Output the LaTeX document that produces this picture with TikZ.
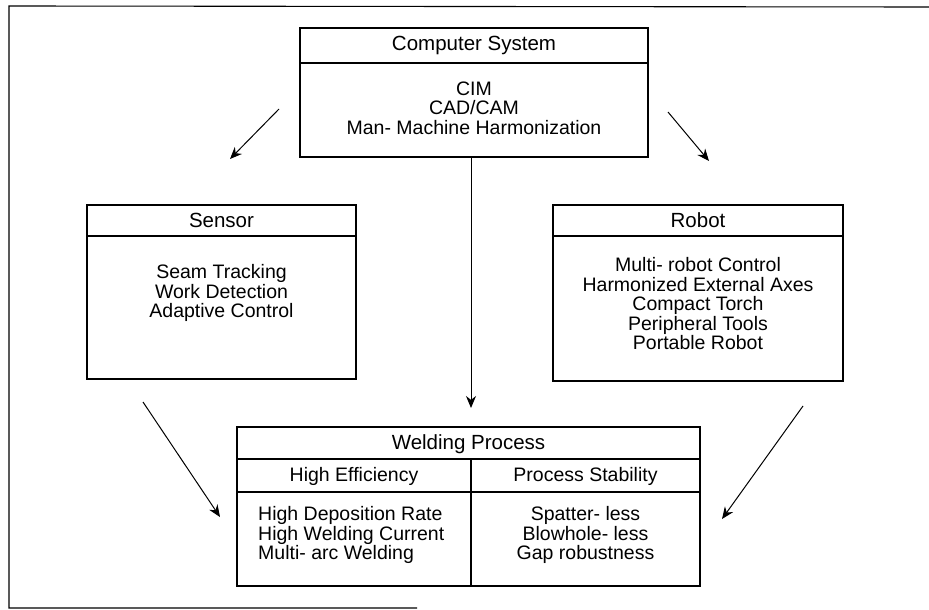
\documentclass[tikz,border=0pt]{standalone}
\usepackage{fontspec}
\setmainfont{Liberation Sans}
\usetikzlibrary{arrows.meta}
\begin{document}
\begin{tikzpicture}[x=1pt,y=-1pt,
  frame/.style={draw, line width=1.1pt, inner sep=0pt, outer sep=0pt},
  rule/.style={line width=1.1pt},
  head/.style={font=\fontsize{20.5}{20}\selectfont, inner sep=0pt, align=center},
  txt/.style={font=\fontsize{19.5}{19.5}\selectfont, inner sep=0pt, align=center},
  ltxt/.style={font=\fontsize{19.5}{19.5}\selectfont, inner sep=0pt, align=left},
  conn/.style={line width=1pt, -{Stealth[length=12pt,width=10pt]}}]
\useasboundingbox (0,0) rectangle (929,610);
% outer frame (cropped)
\draw[rule] (929,7) -- (9,6) -- (9,608) -- (417,608);

% Computer System
\node[frame, minimum width=348pt, minimum height=129pt] (cs) at (474,92.5) {};
\draw[rule] (cs.west |- 0,63) -- (cs.east |- 0,63);
\node[head] (cst) at (474,45) {Computer System};
\node[txt] (csb) at (474,108) {CIM\\CAD/CAM\\Man- Machine Harmonization};

% Sensor
\node[frame, minimum width=269pt, minimum height=174pt] (se) at (221.5,292) {};
\draw[rule] (se.west |- 0,236) -- (se.east |- 0,236);
\node[head] (set) at (221.5,220) {Sensor};
\node[txt] (seb) at (221.5,293) {Seam Tracking\\Work Detection\\Adaptive Control};

% Robot
\node[frame, minimum width=290pt, minimum height=176pt] (ro) at (698,293) {};
\draw[rule] (ro.west |- 0,236) -- (ro.east |- 0,236);
\node[head] (rot) at (698,220) {Robot};
\node[txt] (rob) at (698,304) {Multi- robot Control\\Harmonized External Axes\\Compact Torch\\Peripheral Tools\\Portable Robot};

% Welding Process
\node[frame, minimum width=463pt, minimum height=159pt] (wp) at (468.5,506.5) {};
\draw[rule] (wp.west |- 0,459) -- (wp.east |- 0,459);
\draw[rule] (wp.west |- 0,492) -- (wp.east |- 0,492);
\coordinate (div) at (471,459);
\draw[rule] (div) -- (div |- wp.south);
\node[head] (wpt) at (468.5,444) {Welding Process};
\node[txt] (he) at (354,476) {High Efficiency};
\node[txt] (ps) at (585.5,476) {Process Stability};
\node[ltxt, anchor=west] (heb) at (258,535) {High Deposition Rate\\High Welding Current\\Multi- arc Welding};
\node[txt] (psb) at (585.5,535) {Spatter- less\\Blowhole- less\\Gap robustness};

% connectors
\coordinate (a1s) at (279,109);
\coordinate (a1e) at (230,159);
\coordinate (a2s) at (668,112);
\coordinate (a2e) at (709,161);
\coordinate (a3e) at (471,408);
\coordinate (a4s) at (143,402);
\coordinate (a4e) at (220,517);
\coordinate (a5s) at (803,406);
\coordinate (a5e) at (722,519);
\draw[conn] (a1s) -- (a1e);
\draw[conn] (a2s) -- (a2e);
\draw[conn] (cs.south -| a3e) -- (a3e);
\draw[conn] (a4s) -- (a4e);
\draw[conn] (a5s) -- (a5e);
\end{tikzpicture}
\end{document}
